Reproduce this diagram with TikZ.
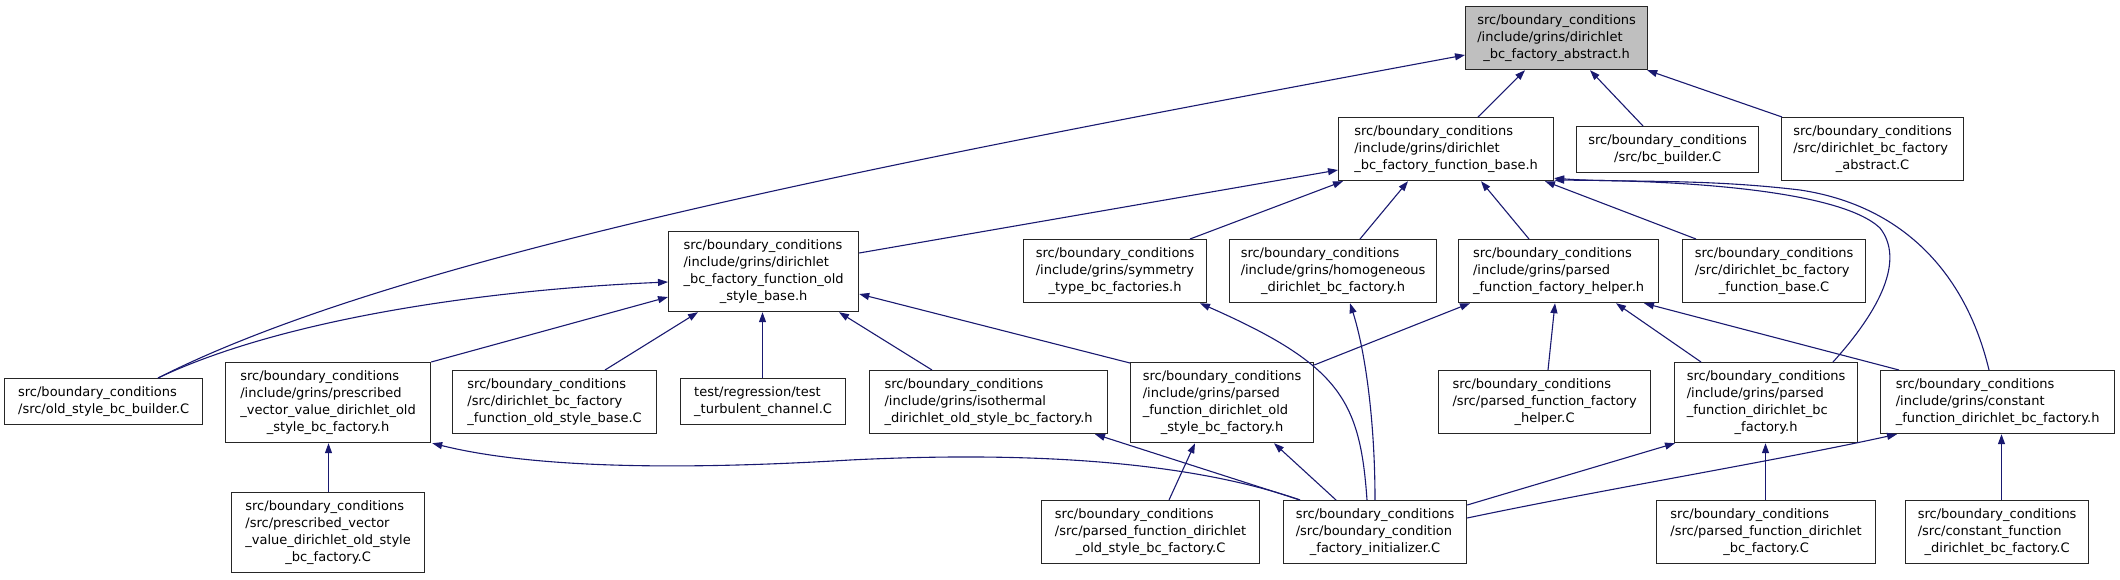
\documentclass[tikz,border=0pt]{standalone}
\usepackage{fontspec}
\setmainfont{DejaVu Sans}
\usetikzlibrary{arrows.meta}
\definecolor{edgeblue}{HTML}{191970}
\definecolor{boxgray}{HTML}{BFBFBF}
\newcommand\lbl[2]{\begin{tabular}{@{}l@{}}#1\\\multicolumn{1}{@{}c@{}}{#2}\end{tabular}}
\tikzset{
  box/.style={draw=black!85, line width=1.2pt, anchor=north west, inner sep=0pt,
    fill=white, font=\fontsize{13}{17}\selectfont},
  hilite/.style={fill=boxgray},
  edge/.style={draw=edgeblue, line width=1.1pt, -{Triangle[length=10pt,width=7pt]}}
}
\begin{document}
\begin{tikzpicture}[x=1pt,y=-1pt]
\useasboundingbox (0,0) rectangle (2120,579);
% rank 0
\node[box,hilite,minimum width=182pt,minimum height=63pt] (A) at (1465,6)
  {\lbl{src/boundary\_conditions\\/include/grins/dirichlet}{\_bc\_factory\_abstract.h}};
% rank 1
\node[box,minimum width=215pt,minimum height=63pt] (B) at (1338,117)
  {\lbl{src/boundary\_conditions\\/include/grins/dirichlet}{\_bc\_factory\_function\_base.h}};
\node[box,minimum width=182pt,minimum height=46pt] (C) at (1576,126)
  {\lbl{src/boundary\_conditions}{/src/bc\_builder.C}};
\node[box,minimum width=182pt,minimum height=63pt] (D) at (1781,117)
  {\lbl{src/boundary\_conditions\\/src/dirichlet\_bc\_factory}{\_abstract.C}};
% rank 2
\node[box,minimum width=190pt,minimum height=80pt] (E) at (668,231)
  {\lbl{src/boundary\_conditions\\/include/grins/dirichlet\\\_bc\_factory\_function\_old}{\_style\_base.h}};
\node[box,minimum width=183pt,minimum height=63pt] (F) at (1023,239)
  {\lbl{src/boundary\_conditions\\/include/grins/symmetry}{\_type\_bc\_factories.h}};
\node[box,minimum width=207pt,minimum height=63pt] (G) at (1229,239)
  {\lbl{src/boundary\_conditions\\/include/grins/homogeneous}{\_dirichlet\_bc\_factory.h}};
\node[box,minimum width=200pt,minimum height=63pt] (H) at (1458,239)
  {\lbl{src/boundary\_conditions\\/include/grins/parsed}{\_function\_factory\_helper.h}};
\node[box,minimum width=183pt,minimum height=63pt] (I) at (1682,239)
  {\lbl{src/boundary\_conditions\\/src/dirichlet\_bc\_factory}{\_function\_base.C}};
% rank 3
\node[box,minimum width=198pt,minimum height=46pt] (J) at (4,378)
  {\lbl{src/boundary\_conditions}{/src/old\_style\_bc\_builder.C}};
\node[box,minimum width=205pt,minimum height=80pt] (K) at (225,362)
  {\lbl{src/boundary\_conditions\\/include/grins/prescribed\\\_vector\_value\_dirichlet\_old}{\_style\_bc\_factory.h}};
\node[box,minimum width=204pt,minimum height=63pt] (L) at (452,370)
  {\lbl{src/boundary\_conditions\\/src/dirichlet\_bc\_factory}{\_function\_old\_style\_base.C}};
\node[box,minimum width=165pt,minimum height=46pt] (M) at (680,378)
  {\lbl{test/regression/test}{\_turbulent\_channel.C}};
\node[box,minimum width=238pt,minimum height=63pt] (N) at (869,370)
  {\lbl{src/boundary\_conditions\\/include/grins/isothermal}{\_dirichlet\_old\_style\_bc\_factory.h}};
\node[box,minimum width=183pt,minimum height=80pt] (O) at (1130,362)
  {\lbl{src/boundary\_conditions\\/include/grins/parsed\\\_function\_dirichlet\_old}{\_style\_bc\_factory.h}};
\node[box,minimum width=212pt,minimum height=63pt] (P) at (1438,370)
  {\lbl{src/boundary\_conditions\\/src/parsed\_function\_factory}{\_helper.C}};
\node[box,minimum width=183pt,minimum height=80pt] (Q) at (1674,362)
  {\lbl{src/boundary\_conditions\\/include/grins/parsed\\\_function\_dirichlet\_bc}{\_factory.h}};
\node[box,minimum width=234pt,minimum height=63pt] (R) at (1880,370)
  {\lbl{src/boundary\_conditions\\/include/grins/constant}{\_function\_dirichlet\_bc\_factory.h}};
% rank 4
\node[box,minimum width=193pt,minimum height=80pt] (S) at (231,492)
  {\lbl{src/boundary\_conditions\\/src/prescribed\_vector\\\_value\_dirichlet\_old\_style}{\_bc\_factory.C}};
\node[box,minimum width=218pt,minimum height=63pt] (T) at (1041,500)
  {\lbl{src/boundary\_conditions\\/src/parsed\_function\_dirichlet}{\_old\_style\_bc\_factory.C}};
\node[box,minimum width=183pt,minimum height=63pt] (U) at (1283,500)
  {\lbl{src/boundary\_conditions\\/src/boundary\_condition}{\_factory\_initializer.C}};
\node[box,minimum width=219pt,minimum height=63pt] (V) at (1656,500)
  {\lbl{src/boundary\_conditions\\/src/parsed\_function\_dirichlet}{\_bc\_factory.C}};
\node[box,minimum width=183pt,minimum height=63pt] (W) at (1905,500)
  {\lbl{src/boundary\_conditions\\/src/constant\_function}{\_dirichlet\_bc\_factory.C}};
% edges
\draw[edge] ([xshift=140pt]B.north west) -- ([xshift=60pt]A.south west);
\draw[edge] ([xshift=67pt]C.north west) -- ([xshift=125pt]A.south west);
\draw[edge] ([xshift=1pt]D.north west) -- ([xshift=-1pt]A.south east);
\draw[edge] ([xshift=154pt]J.north west) .. controls (400,255) and (900,160) .. ([yshift=-49pt]A.north west);
\draw[edge] ([yshift=-22pt]E.north east) -- ([yshift=-53pt]B.north west);
\draw[edge] ([xshift=167pt]F.north west) -- ([xshift=5pt]B.south west);
\draw[edge] ([xshift=131pt]G.north west) -- ([xshift=70pt]B.south west);
\draw[edge] ([xshift=71pt]H.north west) -- ([xshift=143pt]B.south west);
\draw[edge] ([xshift=14pt]I.north west) -- ([xshift=207pt]B.south west);
\draw[edge] ([xshift=159pt]Q.north west) .. controls (1880,310) and (1905,260) .. (1880,228) .. controls (1840,190) and (1680,180) .. ([yshift=1pt]B.south east);
\draw[edge] ([xshift=109pt]R.north west) .. controls (1965,270) and (1900,205) .. (1800,190) .. controls (1700,178) and (1620,183) .. ([yshift=3pt]B.south east);
\draw[edge] ([xshift=154pt]J.north west) .. controls (280,320) and (480,290) .. ([yshift=-51pt]E.north west);
\draw[edge] (K.north east) -- ([yshift=-66pt]E.north west);
\draw[edge] ([xshift=153pt]L.north west) -- ([xshift=30pt]E.south west);
\draw[edge] ([xshift=82.5pt]M.north west) -- ([xshift=94.5pt]E.south west);
\draw[edge] ([xshift=63pt]N.north west) -- ([xshift=171pt]E.south west);
\draw[edge] ([yshift=-1pt]O.north west) -- ([yshift=-63pt]E.north east);
\draw[edge] ([xshift=97.5pt]S.north west) -- ([xshift=103.5pt]K.south west);
\draw[edge] ([xshift=17pt]U.north west) .. controls (1200,465) and (1050,450) .. (850,460) .. controls (650,472) and (520,465) .. ([xshift=1pt]K.south east);
\draw[edge] ([xshift=17pt]U.north west) -- ([xshift=226pt]N.south west);
\draw[edge] ([xshift=84pt]U.north west) .. controls (1360,400) and (1340,365) .. ([xshift=177pt]F.south west);
\draw[edge] ([xshift=92pt]U.north west) .. controls (1375,420) and (1365,350) .. ([xshift=121pt]G.south west);
\draw[edge] ([xshift=53pt]U.north west) -- ([xshift=144pt]O.south west);
\draw[edge] ([yshift=-5pt]U.north east) -- ([xshift=1pt]Q.south west);
\draw[edge] ([yshift=-18pt]U.north east) .. controls (1600,490) and (1780,460) .. ([xshift=17pt]R.south west);
\draw[edge] ([xshift=128pt]T.north west) -- ([xshift=65pt]O.south west);
\draw[edge] ([yshift=-3pt]O.north east) -- ([xshift=12pt]H.south west);
\draw[edge] ([xshift=110pt]P.north west) -- ([xshift=97pt]H.south west);
\draw[edge] ([xshift=27pt]Q.north west) -- ([xshift=158pt]H.south west);
\draw[edge] ([xshift=19pt]R.north west) -- ([xshift=186pt]H.south west);
\draw[edge] ([xshift=109.5pt]V.north west) -- ([xshift=91.5pt]Q.south west);
\draw[edge] ([xshift=96.5pt]W.north west) -- ([xshift=121.5pt]R.south west);
\end{tikzpicture}
\end{document}
